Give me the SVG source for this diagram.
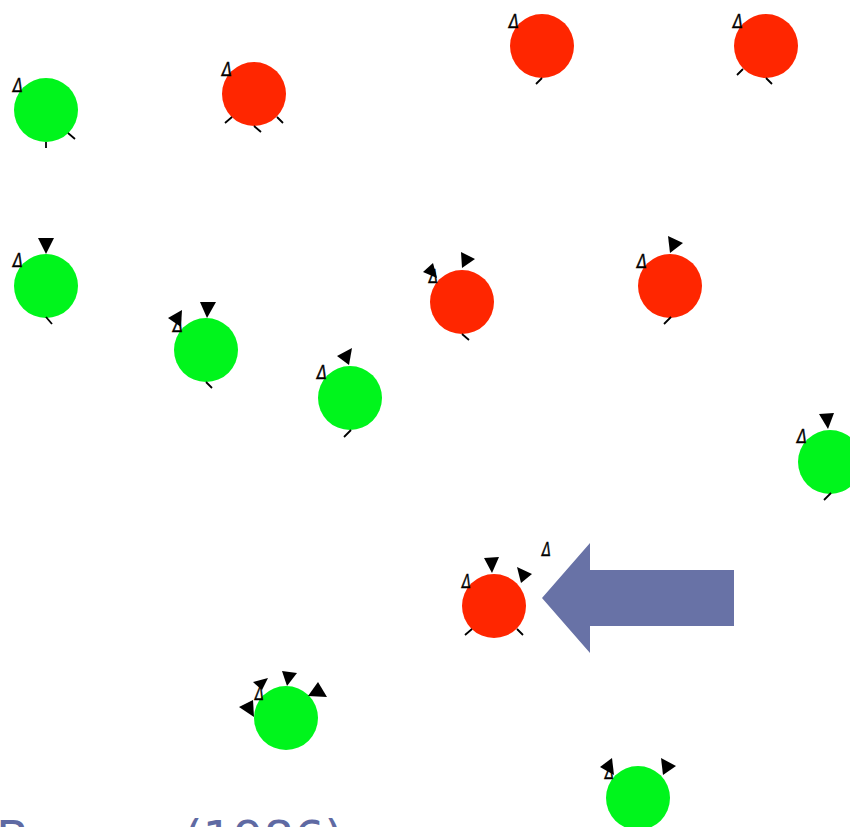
<svg xmlns="http://www.w3.org/2000/svg" width="850" height="827" viewBox="0 0 850 827">
<style>
.g{fill:#00f51c}
.r{fill:#ff2600}
.t{fill:#000}
.k{stroke:#000;stroke-width:1.8;fill:none}
.d{font-family:"DejaVu Sans",sans-serif;font-style:italic;font-size:20px;fill:#000;stroke:#000;stroke-width:0.5}
.cap{font-family:"DejaVu Sans","Liberation Sans",sans-serif;font-size:48px;fill:#5f6aa3}
</style>
<rect width="850" height="827" fill="#fff"/>
<g id="n1"><circle class="g" cx="46" cy="110" r="32"/><path class="k" d="M46 142V148M68 133L75 139"/><text class="d" x="13" y="92" textLength="10" lengthAdjust="spacingAndGlyphs">Δ</text></g>
<g id="n2"><circle class="r" cx="254" cy="94" r="32"/><path class="k" d="M225 123L232 117M254 126L261 132M277 117L283 123"/><text class="d" x="222" y="76" textLength="10" lengthAdjust="spacingAndGlyphs">Δ</text></g>
<g id="n3"><circle class="r" cx="542" cy="46" r="32"/><path class="k" d="M536 84L542 78"/><text class="d" x="509" y="28" textLength="10" lengthAdjust="spacingAndGlyphs">Δ</text></g>
<g id="n4"><circle class="r" cx="766" cy="46" r="32"/><path class="k" d="M737 75L743 69M766 78L772 84"/><text class="d" x="733" y="28" textLength="10" lengthAdjust="spacingAndGlyphs">Δ</text></g>
<g id="n5"><circle class="g" cx="46" cy="286" r="32"/><polygon class="t" points="38,238 54,238 46,254"/><path class="k" d="M46 317L52 324"/><text class="d" x="13" y="267" textLength="10" lengthAdjust="spacingAndGlyphs">Δ</text></g>
<g id="n6"><circle class="g" cx="206" cy="350" r="32"/><polygon class="t" points="200,302 216,302 207,318"/><polygon class="t" points="168,318 182,310 181,327"/><path class="k" d="M206 382L212 388"/><text class="d" x="173" y="332" textLength="10" lengthAdjust="spacingAndGlyphs">Δ</text></g>
<g id="n7"><circle class="g" cx="350" cy="398" r="32"/><polygon class="t" points="337,356 352,348 349,365"/><path class="k" d="M344 437L351 430"/><text class="d" x="317" y="379" textLength="10" lengthAdjust="spacingAndGlyphs">Δ</text></g>
<g id="n8"><circle class="r" cx="462" cy="302" r="32"/><polygon class="t" points="461,252 475,259 462,268"/><polygon class="t" points="423,272 433,263 437,278"/><path class="k" d="M462 334L469 340"/><text class="d" x="429" y="283" textLength="9" lengthAdjust="spacingAndGlyphs">Δ</text></g>
<g id="n9"><circle class="r" cx="670" cy="286" r="32"/><polygon class="t" points="668,236 683,243 670,253"/><path class="k" d="M664 324L671 317"/><text class="d" x="637" y="268" textLength="10" lengthAdjust="spacingAndGlyphs">Δ</text></g>
<g id="n10"><circle class="g" cx="830" cy="462" r="32"/><polygon class="t" points="819,414 834,413 828,429"/><path class="k" d="M824 500L831 493"/><text class="d" x="797" y="443" textLength="10" lengthAdjust="spacingAndGlyphs">Δ</text></g>
<g id="n11"><circle class="r" cx="494" cy="606" r="32"/><polygon class="t" points="484,558 499,557 492,573"/><polygon class="t" points="517,567 532,574 521,583"/><path class="k" d="M465 635L472 629M517 629L523 635"/><text class="d" x="462" y="588" textLength="9" lengthAdjust="spacingAndGlyphs">Δ</text><text class="d" x="542" y="556" textLength="9" lengthAdjust="spacingAndGlyphs">Δ</text></g>
<g id="n12"><circle class="g" cx="286" cy="718" r="32"/><polygon class="t" points="282,671 297,673 287,686"/><polygon class="t" points="253,682 268,678 262,690"/><polygon class="t" points="239,707 253,700 254,717"/><polygon class="t" points="318,682 327,697 308,696"/><text class="d" x="255" y="700" textLength="9" lengthAdjust="spacingAndGlyphs">Δ</text></g>
<g id="n13"><circle class="g" cx="638" cy="798" r="32"/><polygon class="t" points="600,767 612,758 614,775"/><polygon class="t" points="661,758 676,766 663,775"/><text class="d" x="605" y="779" textLength="9" lengthAdjust="spacingAndGlyphs">Δ</text></g>
<g id="connectors"><polygon fill="#6872a6" points="542,598 590,543 590,570 734,570 734,626 590,626 590,653"/></g>
<text class="cap" x="-4" y="855">Bonner (1986)</text>
</svg>
